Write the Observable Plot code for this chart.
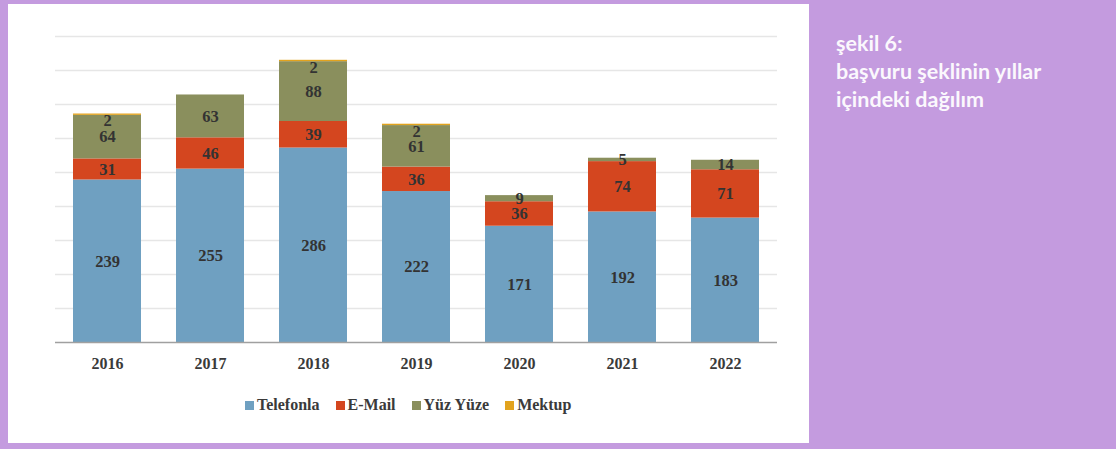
<!DOCTYPE html>
<html>
<head>
<meta charset="utf-8">
<script src="https://cdn.jsdelivr.net/npm/d3@7"></script>
<script src="https://cdn.jsdelivr.net/npm/@observablehq/plot@0.6"></script>
<style>
  html, body { margin: 0; padding: 0; }
  body { width: 1116px; height: 449px; background: #c49bdf; position: relative; overflow: hidden; }
  #panel { position: absolute; left: 8px; top: 4px; width: 801px; height: 439px; background: #ffffff; }
  #chart { position: absolute; left: 0; top: 0; }
  #legend { position: absolute; left: 237px; top: 392px; display: flex; gap: 16px; align-items: center;
            font-family: "Liberation Serif", serif; font-weight: bold; font-size: 16px; color: #3a3a3a; }
  #legend .item { display: flex; align-items: center; gap: 3px; }
  #legend .sw { width: 9px; height: 9px; display: inline-block; }
  #title { position: absolute; left: 836px; top: 29px; font-family: Lato, "Open Sans", sans-serif; font-weight: bold;
           font-size: 21.5px; line-height: 28px; color: #fbf8fd; }
</style>
</head>
<body>
<div id="panel"><div id="chart"></div><div id="legend"></div></div>
<div id="title">şekil 6:<br>başvuru şeklinin yıllar<br>içindeki dağılım</div>
<script>
const years = ["2016", "2017", "2018", "2019", "2020", "2021", "2022"];
const seriesNames = ["Telefonla", "E-Mail", "Yüz Yüze", "Mektup"];
const seriesColors = ["#6fa0c1", "#d4461f", "#8a8f5d", "#e2a31e"];
const telefonla = [239, 255, 286, 222, 171, 192, 183];
const email = [31, 46, 39, 36, 36, 74, 71];
const yuzyuze = [64, 63, 88, 61, 9, 5, 14];
const mektup = [2, 0, 2, 2, 0, 0, 0];
const gridTicks = [50, 100, 150, 200, 250, 300, 350, 400, 450];

const seriesValues = [telefonla, email, yuzyuze, mektup];
const rows = [];
const labels = [];
const topLabels = [];
years.forEach((year, i) => {
  let base = 0;
  seriesValues.forEach((vals, s) => {
    const v = vals[i];
    rows.push({year, series: seriesNames[s], value: v});
    if (s < 3 && v > 0) labels.push({year, value: v, mid: base + v / 2});
    base += v;
  });
  if (mektup[i] > 0) topLabels.push({year, value: mektup[i], top: base});
});

const plot = Plot.plot({
  width: 801,
  height: 375,
  marginLeft: 47,
  marginRight: 32,
  marginTop: 32,
  marginBottom: 37,
  style: {fontFamily: "Liberation Serif, serif", fontSize: "16px", fontWeight: "bold", color: "#3a3a3a", background: "transparent"},
  x: {domain: years, paddingInner: 0.34, paddingOuter: 0.17, label: null},
  y: {domain: [0, 450], axis: null},
  color: {domain: seriesNames, range: seriesColors},
  marks: [
    Plot.ruleY(gridTicks, {stroke: "#e6e6e6", strokeWidth: 1.6}),
    Plot.barY(rows, {x: "year", y: "value", fill: "series", order: seriesNames}),
    Plot.ruleY([0], {stroke: "#a0a0a0", strokeWidth: 1.5}),
    Plot.axisX({tickSize: 0, tickPadding: 15, label: null}),
    Plot.text(labels, {x: "year", y: "mid", text: d => String(d.value), fill: "#333", fontSize: 16.5, fontWeight: "bold"}),
    Plot.text(topLabels, {x: "year", y: "top", text: d => String(d.value), dy: 7, fill: "#333", fontSize: 16.5, fontWeight: "bold"})
  ]
});
document.getElementById("chart").appendChild(plot);

const legend = document.getElementById("legend");
seriesNames.forEach((name, i) => {
  const item = document.createElement("div");
  item.className = "item";
  const sw = document.createElement("span");
  sw.className = "sw";
  sw.style.background = seriesColors[i];
  const t = document.createElement("span");
  t.textContent = name;
  item.appendChild(sw);
  item.appendChild(t);
  legend.appendChild(item);
});
</script>
</body>
</html>
